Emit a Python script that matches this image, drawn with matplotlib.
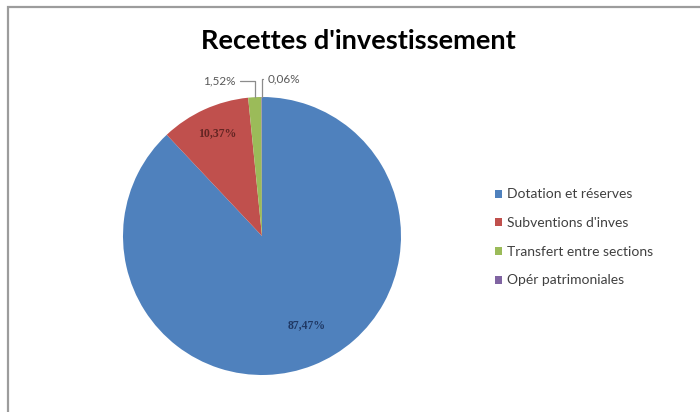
import matplotlib
matplotlib.use("Agg")
import matplotlib.pyplot as plt
from matplotlib.patches import Rectangle
import numpy as np

# chart data
categories = ["Dotation et réserves", "Subventions d'inves",
              "Transfert entre sections", "Opér patrimoniales"]
shares = [87.47, 10.37, 1.52, 0.06]
share_labels = ["87,47%", "10,37%", "1,52%", "0,06%"]
colors = ["#4F81BD", "#C0504D", "#9BBB59", "#8064A2"]

plt.rcParams['font.family'] = ['Lato', 'DejaVu Sans']

W, H = 700, 412
fig = plt.figure(figsize=(W / 100, H / 100), dpi=100)

# chart frame (cut at right and bottom like the screenshot)
fig.add_artist(Rectangle((8 / W, -0.1), 1.2, (H - 7) / H + 0.1,
                         transform=fig.transFigure, fill=False,
                         edgecolor="#9C9C9C", linewidth=1.6))

# pie axes: centre (262, 236) px, radius 139 px
cx, cy, r = 262, 236, 139
ax = fig.add_axes([(cx - r) / W, (H - cy - r) / H, 2 * r / W, 2 * r / H])
wedges, _ = ax.pie(shares, colors=colors, startangle=90, counterclock=False,
                   radius=1, wedgeprops=dict(linewidth=0))
ax.set_xlim(-1, 1)
ax.set_ylim(-1, 1)
ax.set_aspect('equal')
ax.axis('off')

fig.text(358 / W, 1 - 41 / H, "Recettes d'investissement",
         ha='center', va='center', fontsize=19.5, fontweight='bold')

# inside labels (distance, angle shift, colour)
inner = {0: (0.72, 5, "#1F3864"), 1: (0.81, -1, "#632523")}
for i, (dist, shift, col) in inner.items():
    w = wedges[i]
    mid = np.deg2rad((w.theta1 + w.theta2) / 2 + shift)
    ax.text(dist * np.cos(mid), dist * np.sin(mid), share_labels[i],
            ha='center', va='center', fontsize=8.5, fontweight='bold',
            color=col, family=['Liberation Serif'])

# outside labels with elbow leaders
outer = {2: (-0.19, 1.115, 'right'), 3: (0.04, 1.13, 'left')}
for i, (tx, ty, ha) in outer.items():
    w = wedges[i]
    mid = np.deg2rad((w.theta1 + w.theta2) / 2)
    ax.annotate(share_labels[i], xy=(np.cos(mid), np.sin(mid)),
                xytext=(tx, ty), ha=ha, va='center', fontsize=8.5,
                color="#595959", annotation_clip=False,
                arrowprops=dict(arrowstyle='-', color="#8C8C8C", lw=0.9,
                                shrinkA=1, shrinkB=0,
                                connectionstyle="angle,angleA=0,angleB=90,rad=0"))

fig.legend(wedges, categories, loc='upper left',
           bbox_to_anchor=(483 / W, 1 - 176 / H), frameon=False,
           fontsize=10, labelspacing=1.2, handlelength=0.5, handleheight=0.5,
           handletextpad=0.35, labelcolor="#404040")

fig.savefig("out.png", dpi=100, facecolor="white")
